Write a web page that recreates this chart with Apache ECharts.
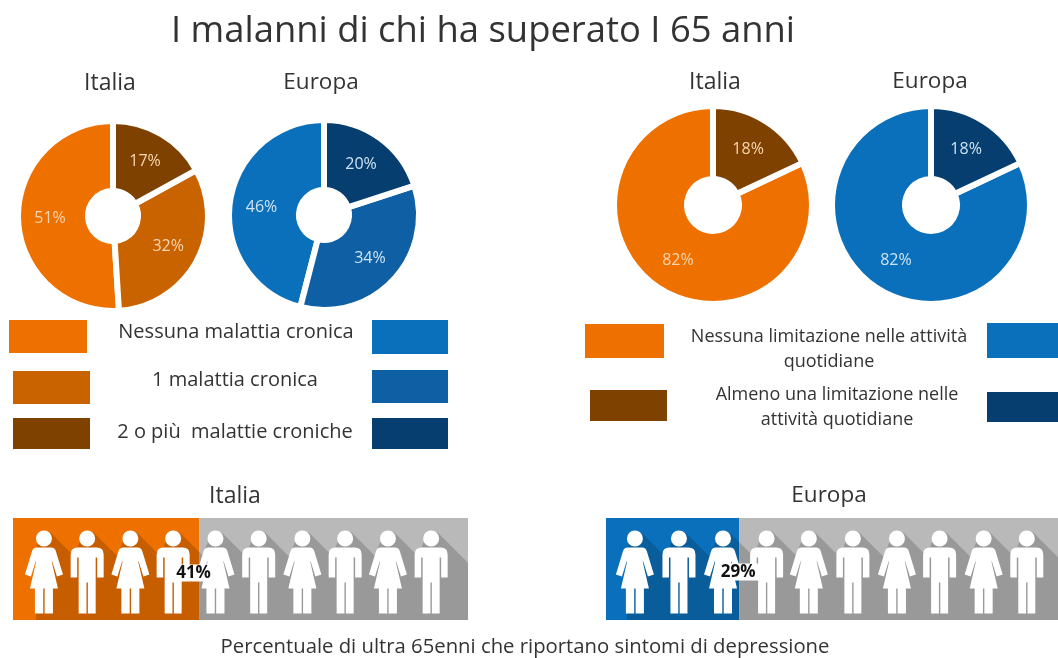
<!DOCTYPE html>
<html lang="it">
<head>
<meta charset="utf-8">
<style>html,body{margin:0;padding:0;background:#fff}#chart{width:1058px;height:658px}</style>
<script src="https://cdn.jsdelivr.net/npm/echarts@6/dist/echarts.min.js"></script>
</head>
<body>
<div id="chart"></div>
<script>
// Chronic illnesses (legend order: none, one, two or more)
const cronicheItalia = [51, 32, 17];
const cronicheEuropa = [46, 34, 20];
const categorieCroniche = ['Nessuna malattia cronica', '1 malattia cronica', '2 o più  malattie croniche'];
// Limitations in daily activities (none, at least one)
const limitazioniItalia = [82, 18];
const limitazioniEuropa = [82, 18];
const categorieLimitazioni = ['Nessuna limitazione nelle attività\nquotidiane', 'Almeno una limitazione nelle\nattività quotidiane'];
// Over-65s reporting depression symptoms
const depressioneItalia = [41];
const depressioneEuropa = [29];
// Where the ten figures stand on the 0-100 axis of each strip
const figureItalia = [6.8, 16.3, 25.8, 35.2, 44.5, 54, 63.6, 73, 82.4, 91.9];
const figureEuropa = [6.3, 15.9, 25.5, 35, 44.2, 53.8, 63.4, 72.7, 82.3, 91.7];

const FONT = '"Open Sans", sans-serif';
const ARANCIO = ['#ee7100', '#c96300', '#7f4100'];
const BLU = ['#0b70bb', '#0f5fa4', '#063f6f'];
const GRIGIO = '#b9b9b9';

const DONNA = 'path://M19 0A8 8 0 1 1 18.99 0ZM12 17L26 17Q30 17 31 21L38 44L32 46L27 30L27 32L33 58L28 58L28 83L19.7 83L19.7 58L18.3 58L18.3 83L10 83L10 58L5 58L11 32L11 30L6 46L0 44L7 21Q8 17 12 17Z';
const UOMO = 'path://M16.5 0A8 8 0 1 1 16.49 0ZM7 17L26 17Q33 17 33 24L33 47L26.5 47L26.5 27L25 27L25 83L17.2 83L17.2 52L15.8 52L15.8 83L8 83L8 27L6.5 27L6.5 47L0 47L0 24Q0 17 7 17Z';

function ciambella(valori, colori, centro, raggio, coloreTesto) {
  return {
    type: 'pie', center: centro, radius: raggio,
    startAngle: 90, clockwise: false, animation: false, silent: true,
    itemStyle: { borderColor: '#fff', borderWidth: 6 },
    label: { position: 'inside', formatter: '{c}%', color: coloreTesto, fontFamily: FONT, fontSize: 16 },
    labelLine: { show: false },
    data: valori.map((v, i) => ({ value: v, itemStyle: { color: colori[i] } }))
  };
}

// Long diagonal shadow cast by the row of figures, as one polygon clipped to the strip
function ombra(posizioni) {
  return function (params, api) {
    const pts = [];
    const mid = api.coord([0, 0])[1];
    const cima = mid - 39, fondo = mid + 60;
    const xs = posizioni.map(p => api.coord([p, 0])[0]);
    pts.push([xs[0] - 8, fondo]);
    pts.push([xs[0] - 8, cima + 30]);
    xs.forEach((x, i) => {
      pts.push([x - 6, cima + 8]);
      pts.push([x + 6, cima + 2]);
      if (i < xs.length - 1) {
        pts.push([xs[i + 1] - 13, cima + 2 + xs[i + 1] - 13 - x - 6]);
      } else {
        pts.push([x + 206, cima + 202]);
      }
    });
    return { type: 'polygon', shape: { points: pts }, style: { fill: 'rgba(0,0,0,0.17)' }, silent: true };
  };
}

function striscia(indice, quota, colore, posizioni, scostamento) {
  const assi = { xAxisIndex: indice, yAxisIndex: indice, animation: false, silent: true };
  const fondoScala = assiX[indice].max;
  return [
    Object.assign({ type: 'bar', stack: 's' + indice, barWidth: '100%', z: 1, data: quota, itemStyle: { color: colore } }, assi),
    Object.assign({ type: 'bar', stack: 's' + indice, barWidth: '100%', z: 1, data: quota.map(v => fondoScala - v), itemStyle: { color: GRIGIO } }, assi),
    Object.assign({ type: 'custom', z: 2, clip: true, data: [0], renderItem: ombra(posizioni) }, assi),
    Object.assign({
      type: 'scatter', z: 3, clip: false,
      symbolSize: (v, p) => (p.dataIndex % 2 ? [33, 83] : [38, 83]),
      symbolOffset: [0, 3],
      itemStyle: { color: '#fff', opacity: 1 },
      data: posizioni.map((p, i) => ({ value: [p, 0], symbol: i % 2 ? UOMO : DONNA }))
    }, assi),
    Object.assign({
      type: 'scatter', z: 4, symbolSize: 1, itemStyle: { color: '#fff', opacity: 1 },
      label: {
        show: true, position: 'inside', offset: scostamento, formatter: p => p.value[0] + '%',
        color: '#111', opacity: 1, fontFamily: FONT, fontWeight: 'bold', fontSize: 17,
        backgroundColor: '#fff', padding: [0, 4]
      },
      data: quota.map(v => [v, 0])
    }, assi)
  ];
}

function testo(t, x, y, size, colore) {
  return { type: 'text', silent: true, style: { text: t, x: x, y: y, align: 'center', verticalAlign: 'middle', fill: colore || '#333', font: size + 'px ' + FONT, lineHeight: 25 } };
}
function tassello(x, y, w, h, colore) {
  return { type: 'rect', silent: true, shape: { x: x, y: y, width: w, height: h }, style: { fill: colore } };
}

const elementi = [
  testo('I malanni di chi ha superato I 65 anni', 483, 32, 36.4),
  testo('Italia', 110, 83, 23), testo('Europa', 321, 83, 22.5),
  testo('Italia', 715, 82, 23), testo('Europa', 930, 82, 22.5),
  testo('Italia', 235, 496, 23), testo('Europa', 829, 496, 22.5),
  testo(categorieCroniche[0], 236, 332, 20), testo(categorieCroniche[1], 235, 380, 20), testo(categorieCroniche[2], 235, 432, 20),
  testo(categorieLimitazioni[0], 829, 349, 18), testo(categorieLimitazioni[1], 837, 407, 18),
  testo('Percentuale di ultra 65enni che riportano sintomi di depressione', 525, 647, 20.3),
  tassello(9, 320, 78, 33, ARANCIO[0]), tassello(13, 371, 77, 33, ARANCIO[1]), tassello(13, 418, 77, 31, ARANCIO[2]),
  tassello(372, 320, 76, 34, BLU[0]), tassello(372, 370, 76, 33, BLU[1]), tassello(372, 418, 76, 31, BLU[2]),
  tassello(585, 324, 79, 34, ARANCIO[0]), tassello(590, 390, 77, 31, ARANCIO[2]),
  tassello(987, 323, 71, 35, BLU[0]), tassello(987, 392, 71, 30, BLU[2])
];

// The Europe strip runs past the right edge of the page, so its axis stops where the page does
const griglie = [
  { left: 13, top: 518, width: 455, height: 102 },
  { left: 606, top: 518, width: 452, height: 102 }
];
const assiX = [
  { type: 'value', gridIndex: 0, min: 0, max: 100, show: false },
  { type: 'value', gridIndex: 1, min: 0, max: 98.5, show: false }
];
const assiY = griglie.map((g, i) => ({ type: 'category', gridIndex: i, data: [''], show: false }));

const grafico = echarts.init(document.getElementById('chart'), null, { renderer: 'canvas' });
grafico.setOption({
  backgroundColor: '#fff',
  animation: false,
  grid: griglie, xAxis: assiX, yAxis: assiY,
  graphic: { elements: elementi },
  series: [
    ciambella(cronicheItalia, ARANCIO, [113, 216], [25, 95], '#f7d6b0'),
    ciambella(cronicheEuropa, BLU, [324, 215], [25, 95], '#cfe3f3'),
    ciambella(limitazioniItalia, [ARANCIO[0], ARANCIO[2]], [713, 205], [26, 99], '#f7d6b0'),
    ciambella(limitazioniEuropa, [BLU[0], BLU[2]], [931, 205], [26, 99], '#cfe3f3')
  ].concat(
    striscia(0, depressioneItalia, ARANCIO[0], figureItalia, [-6, 4]),
    striscia(1, depressioneEuropa, BLU[0], figureEuropa, [-1, 3])
  )
});
</script>
</body>
</html>
